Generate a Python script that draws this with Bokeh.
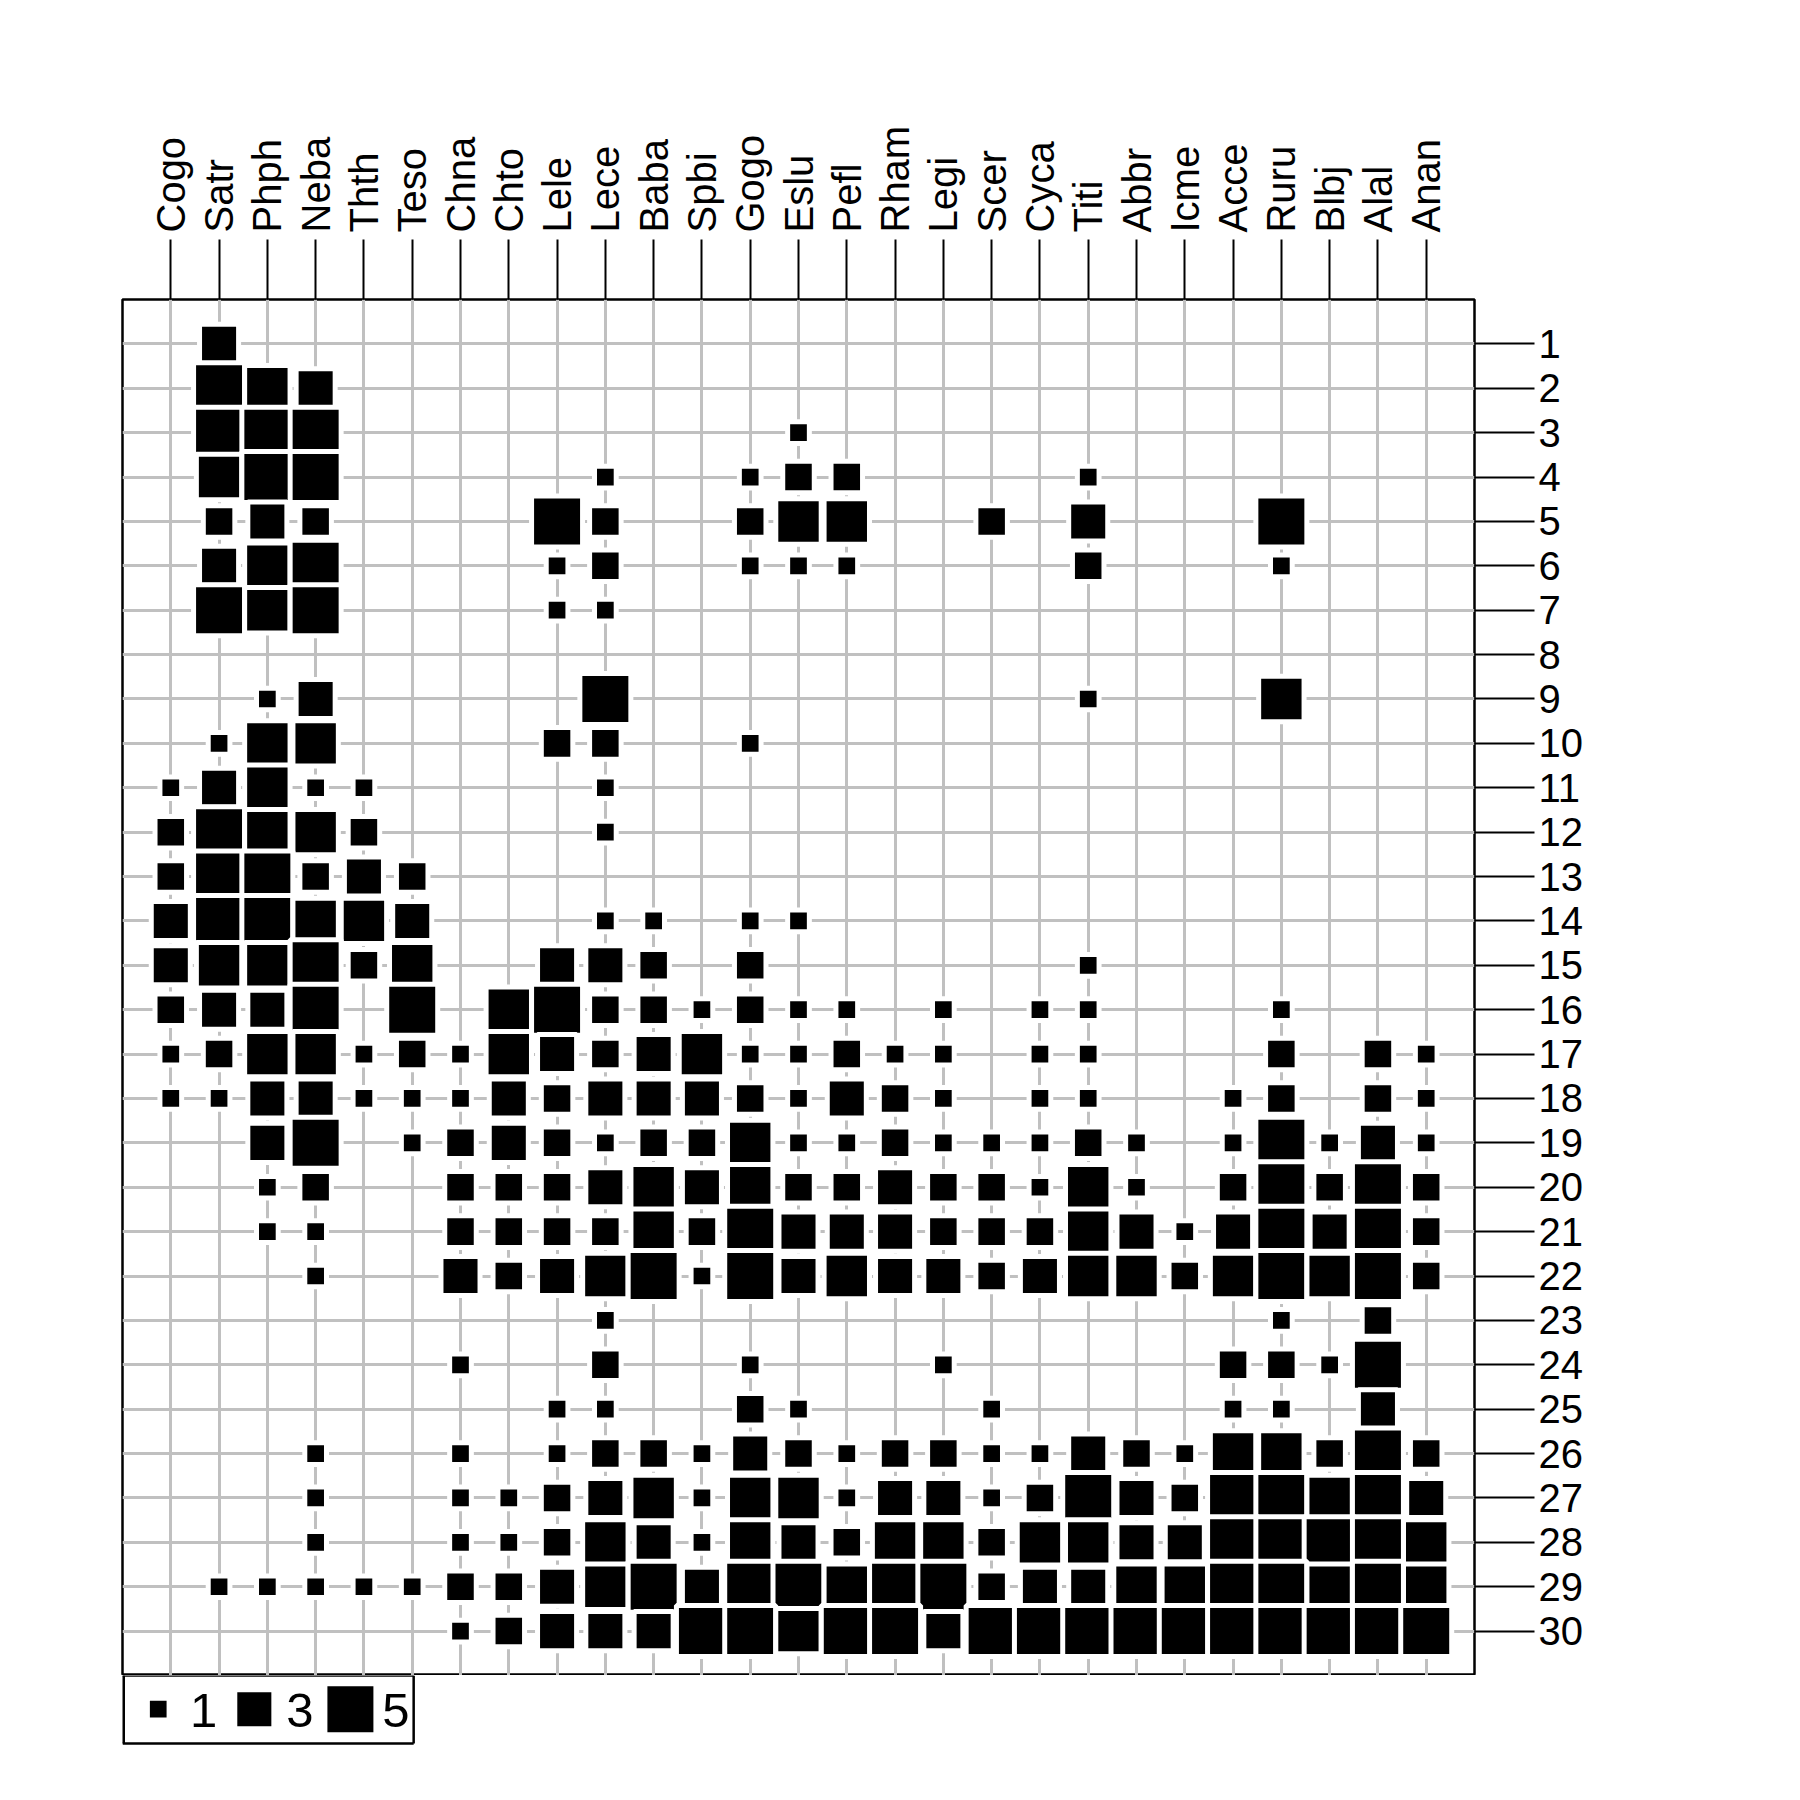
import numpy as np
from bokeh.plotting import figure
from bokeh.models import FixedTicker, ColumnDataSource, Range1d
from bokeh.layouts import column
from bokeh.embed import file_html
from bokeh.resources import INLINE
from bokeh.core.properties import value

species = ["Cogo", "Satr", "Phph", "Neba", "Thth", "Teso", "Chna", "Chto", "Lele",
           "Lece", "Baba", "Spbi", "Gogo", "Eslu", "Pefl", "Rham", "Legi", "Scer",
           "Cyca", "Titi", "Abbr", "Icme", "Acce", "Ruru", "Blbj", "Alal", "Anan"]
sites = list(range(1, 31))

abund = [
    [0,3,0,0,0,0,0,0,0,0,0,0,0,0,0,0,0,0,0,0,0,0,0,0,0,0,0],
    [0,5,4,3,0,0,0,0,0,0,0,0,0,0,0,0,0,0,0,0,0,0,0,0,0,0,0],
    [0,5,5,5,0,0,0,0,0,0,0,0,0,1,0,0,0,0,0,0,0,0,0,0,0,0,0],
    [0,4,5,5,0,0,0,0,0,1,0,0,1,2,2,0,0,0,0,1,0,0,0,0,0,0,0],
    [0,2,3,2,0,0,0,0,5,2,0,0,2,4,4,0,0,2,0,3,0,0,0,5,0,0,0],
    [0,3,4,5,0,0,0,0,1,2,0,0,1,1,1,0,0,0,0,2,0,0,0,1,0,0,0],
    [0,5,4,5,0,0,0,0,1,1,0,0,0,0,0,0,0,0,0,0,0,0,0,0,0,0,0],
    [0,0,0,0,0,0,0,0,0,0,0,0,0,0,0,0,0,0,0,0,0,0,0,0,0,0,0],
    [0,0,1,3,0,0,0,0,0,5,0,0,0,0,0,0,0,0,0,1,0,0,0,4,0,0,0],
    [0,1,4,4,0,0,0,0,2,2,0,0,1,0,0,0,0,0,0,0,0,0,0,0,0,0,0],
    [1,3,4,1,1,0,0,0,0,1,0,0,0,0,0,0,0,0,0,0,0,0,0,0,0,0,0],
    [2,5,4,4,2,0,0,0,0,1,0,0,0,0,0,0,0,0,0,0,0,0,0,0,0,0,0],
    [2,5,5,2,3,2,0,0,0,0,0,0,0,0,0,0,0,0,0,0,0,0,0,0,0,0,0],
    [3,5,5,4,4,3,0,0,0,1,1,0,1,1,0,0,0,0,0,0,0,0,0,0,0,0,0],
    [3,4,4,5,2,4,0,0,3,3,2,0,2,0,0,0,0,0,0,1,0,0,0,0,0,0,0],
    [2,3,3,5,0,5,0,4,5,2,2,1,2,1,1,0,1,0,1,1,0,0,0,1,0,0,0],
    [1,2,4,4,1,2,1,4,3,2,3,4,1,1,2,1,1,0,1,1,0,0,0,2,0,2,1],
    [1,1,3,3,1,1,1,3,2,3,3,3,2,1,3,2,1,0,1,1,0,0,1,2,0,2,1],
    [0,0,3,5,0,1,2,3,2,1,2,2,4,1,1,2,1,1,1,2,1,0,1,5,1,3,1],
    [0,0,1,2,0,0,2,2,2,3,4,3,4,2,2,3,2,2,1,4,1,0,2,5,2,5,2],
    [0,0,1,1,0,0,2,2,2,2,4,2,5,3,3,3,2,2,2,4,3,1,3,5,3,5,2],
    [0,0,0,1,0,0,3,2,3,4,5,1,5,3,4,3,3,2,3,4,4,2,4,5,4,5,2],
    [0,0,0,0,0,0,0,0,0,1,0,0,0,0,0,0,0,0,0,0,0,0,0,1,0,2,0],
    [0,0,0,0,0,0,1,0,0,2,0,0,1,0,0,0,1,0,0,0,0,0,2,2,1,5,0],
    [0,0,0,0,0,0,0,0,1,1,0,0,2,1,0,0,0,1,0,0,0,0,1,1,0,3,0],
    [0,0,0,1,0,0,1,0,1,2,2,1,3,2,1,2,2,1,1,3,2,1,4,4,2,5,2],
    [0,0,0,1,0,0,1,1,2,3,4,1,4,4,1,3,3,1,2,5,3,2,5,5,4,5,3],
    [0,0,0,1,0,0,1,1,2,4,3,1,4,3,2,4,4,2,4,4,3,3,5,5,5,5,4],
    [0,1,1,1,1,1,2,2,3,4,5,3,5,5,4,5,5,2,3,3,4,4,5,5,4,5,4],
    [0,0,0,0,0,0,1,2,3,3,3,5,5,4,5,5,3,5,5,5,5,5,5,5,5,5,5],
]

legend_values = [1, 3, 5]

FONT = "Liberation Sans"
BORDER = 5
BL, BR = 122, 326   # left / right borders shared by both panels


def side(v):
    # square side in screen pixels, area proportional to value
    return 23.7 * np.sqrt(v) - 7 + BORDER


xs, ys, ss = [], [], []
for i, row in enumerate(abund):
    for j, v in enumerate(row):
        if v > 0:
            xs.append(j + 1)
            ys.append(sites[i])
            ss.append(side(v))
src = ColumnDataSource(dict(x=xs, y=ys, s=ss))

ncol = len(species)
nrow = len(sites)

p = figure(width=1800, height=1675,
           x_range=Range1d(0, ncol + 1), y_range=Range1d(nrow + 1, 0),
           x_axis_location="above", y_axis_location="right",
           toolbar_location=None, output_backend="svg",
           min_border_left=BL, min_border_right=BR,
           min_border_top=299, min_border_bottom=0)
p.background_fill_color = "white"
p.border_fill_color = "white"
p.outline_line_color = "black"
p.outline_line_width = 2.5

xt = FixedTicker(ticks=list(range(1, ncol + 1)))
yt = FixedTicker(ticks=sites)

xa = p.xaxis[0]
xa.ticker = xt
xa.major_label_overrides = {i + 1: n for i, n in enumerate(species)}
xa.major_label_orientation = np.pi / 2
ya = p.yaxis[0]
ya.ticker = yt
ya.major_label_overrides = {s: str(s) for s in sites}
for ax in (xa, ya):
    ax.axis_line_color = None
    ax.major_tick_in = 0
    ax.major_tick_out = 60
    ax.major_tick_line_color = "black"
    ax.major_tick_line_width = 2
    ax.minor_tick_line_color = None
    ax.major_label_text_font = FONT
    ax.major_label_text_font_size = "40px"
    ax.major_label_text_color = "black"
xa.major_label_standoff = 7
ya.major_label_standoff = 4

p.xgrid.ticker = xt
p.ygrid.ticker = yt
for g in (p.xgrid, p.ygrid):
    g.grid_line_color = "#C0C0C0"
    g.grid_line_width = 3

p.scatter(x="x", y="y", size="s", marker="square", source=src,
          fill_color="black", line_color="white", line_width=BORDER)

# legend panel below the table (same horizontal frame as the table)
lp = figure(width=1800, height=125,
            x_range=Range1d(0, ncol + 1), y_range=Range1d(100, 0),
            x_axis_location=None, y_axis_location=None,
            toolbar_location=None, output_backend="svg",
            min_border_left=BL, min_border_right=BR,
            min_border_top=0, min_border_bottom=25)
lp.grid.visible = False
lp.outline_line_color = None
lp.background_fill_color = "white"
lp.border_fill_color = "white"

box_r = 6.03
box_b = 68
lp.segment(x0=[0], y0=[0], x1=[0], y1=[box_b], line_color="black", line_width=5)
lp.segment(x0=[0, 0, box_r], y0=[0, box_b, 0], x1=[box_r, box_r, box_r],
           y1=[0, box_b, box_b], line_color="black", line_width=2.5)

lx = [0.74 + 1.99 * i for i in range(len(legend_values))]
lsrc = ColumnDataSource(dict(
    x=lx, y=[33.7] * len(legend_values),
    s=[side(v) for v in legend_values],
    tx=[x + 0.66 for x in lx], ty=[34.5] * len(legend_values),
    t=[str(v) for v in legend_values]))
lp.scatter(x="x", y="y", size="s", marker="square", source=lsrc,
           fill_color="black", line_color="white", line_width=BORDER)
lp.text(x="tx", y="ty", text="t", source=lsrc, text_font=value(FONT),
        text_font_size="49px", text_color="black",
        text_align="left", text_baseline="middle")

layout = column(p, lp, spacing=0)
open("out.html", "w").write(file_html(layout, INLINE))
